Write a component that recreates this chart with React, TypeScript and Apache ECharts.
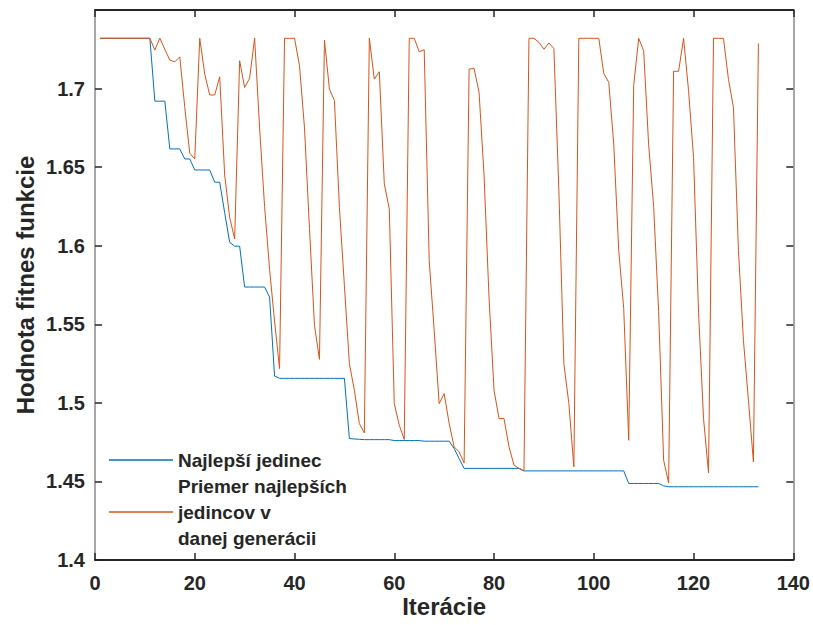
import React, { useEffect, useRef } from "react";
import * as echarts from "echarts";

const iterations: number[] = Array.from({ length: 133 }, (_, i) => i + 1);

const bestValues: number[] = [
  1.732, 1.732, 1.732, 1.732, 1.732, 1.732, 1.732, 1.732, 1.732, 1.732,
  1.732, 1.692, 1.692, 1.692, 1.6616, 1.6616, 1.6616, 1.6552, 1.6552, 1.6482,
  1.6482, 1.6482, 1.6482, 1.6404, 1.6404, 1.621, 1.6022, 1.5997, 1.5997, 1.5737,
  1.5737, 1.5737, 1.5737, 1.5737, 1.5673, 1.5171, 1.5156, 1.5156, 1.5156, 1.5156,
  1.5156, 1.5156, 1.5156, 1.5156, 1.5156, 1.5156, 1.5156, 1.5156, 1.5156, 1.5156,
  1.4773, 1.477, 1.4768, 1.4766, 1.4766, 1.4766, 1.4766, 1.4766, 1.4766, 1.476,
  1.476, 1.476, 1.476, 1.476, 1.476, 1.4756, 1.4756, 1.4756, 1.4756, 1.4756,
  1.4756, 1.471, 1.4646, 1.4583, 1.4583, 1.4583, 1.4583, 1.4583, 1.4583, 1.4583,
  1.4583, 1.4583, 1.4583, 1.4583, 1.4583, 1.4567, 1.4567, 1.4567, 1.4567, 1.4567,
  1.4567, 1.4567, 1.4567, 1.4567, 1.4567, 1.4567, 1.4567, 1.4567, 1.4567, 1.4567,
  1.4567, 1.4567, 1.4567, 1.4567, 1.4567, 1.4567, 1.4487, 1.4487, 1.4487, 1.4487,
  1.4487, 1.4487, 1.4487, 1.4472, 1.4466, 1.4466, 1.4466, 1.4466, 1.4466, 1.4466,
  1.4466, 1.4466, 1.4466, 1.4466, 1.4466, 1.4466, 1.4466, 1.4466, 1.4466, 1.4466,
  1.4466, 1.4466, 1.4466,
];

const meanValues: number[] = [
  1.732, 1.732, 1.732, 1.732, 1.732, 1.732, 1.732, 1.732, 1.732, 1.732,
  1.732, 1.7245, 1.7321, 1.725, 1.7181, 1.717, 1.7202, 1.688, 1.6588, 1.6552,
  1.732, 1.7092, 1.6959, 1.6959, 1.7075, 1.645, 1.618, 1.6043, 1.7177, 1.7007,
  1.7066, 1.732, 1.675, 1.625, 1.585, 1.552, 1.5218, 1.732, 1.732, 1.732,
  1.7145, 1.675, 1.611, 1.5493, 1.5277, 1.7308, 1.6997, 1.6924, 1.6243, 1.5747,
  1.525, 1.508, 1.4868, 1.4809, 1.732, 1.706, 1.7107, 1.6393, 1.6234, 1.4995,
  1.4858, 1.4767, 1.732, 1.732, 1.7234, 1.7247, 1.5906, 1.5461, 1.4995, 1.5059,
  1.487, 1.472, 1.4688, 1.4618, 1.7124, 1.7128, 1.6975, 1.645, 1.5665, 1.508,
  1.49, 1.49, 1.472, 1.4604, 1.4583, 1.4567, 1.732, 1.732, 1.7294, 1.725,
  1.729, 1.7255, 1.635, 1.525, 1.4997, 1.4593, 1.732, 1.732, 1.732, 1.732,
  1.732, 1.7096, 1.704, 1.6647, 1.597, 1.56, 1.4762, 1.702, 1.732, 1.724,
  1.664, 1.625, 1.558, 1.4635, 1.449, 1.711, 1.711, 1.732, 1.6986, 1.6561,
  1.5576, 1.49, 1.4555, 1.732, 1.732, 1.732, 1.7058, 1.688, 1.597, 1.5398,
  1.5017, 1.4625, 1.7287,
];

const bestName = "Najlepší jedinec";
const meanName = "Priemer najlepších\njedincov v\ndanej generácii";
const xTitle = "Iterácie";
const yTitle = "Hodnota fitnes funkcie";

const FONT = "'Liberation Sans', Arial, Helvetica, sans-serif";
const TEXT = "#262626";

export default function App() {
  const ref = useRef<HTMLDivElement>(null);

  useEffect(() => {
    if (!ref.current) return;
    const chart = echarts.init(ref.current, undefined, { renderer: "svg" });
    const fmtY = (v: number) => {
      const r = Math.round(v * 100) / 100;
      return r > 1.74 ? "" : String(r);
    };
    chart.setOption({
      animation: false,
      backgroundColor: "#ffffff",
      textStyle: { fontFamily: FONT },
      grid: { left: 95, right: 18, top: 10, bottom: 65, containLabel: false },
      legend: {
        orient: "vertical",
        left: 109,
        top: 447,
        itemWidth: 64,
        itemHeight: 1.5,
        itemGap: 0,
        padding: 0,
        icon: "rect",
        data: [bestName, meanName],
        textStyle: {
          fontFamily: FONT,
          fontWeight: "bold",
          fontSize: 19,
          color: TEXT,
          lineHeight: 26,
        },
      },
      xAxis: [
        {
          type: "value",
          min: 0,
          max: 140,
          interval: 20,
          name: xTitle,
          nameLocation: "middle",
          nameGap: 34,
          nameMoveOverlap: false,
          nameTextStyle: { fontFamily: FONT, fontWeight: "bold", fontSize: 24, color: TEXT },
          axisLine: { show: true, onZero: false, lineStyle: { color: TEXT, width: 2 } },
          axisTick: { show: true, inside: true, length: 7, lineStyle: { color: TEXT, width: 1.5 } },
          axisLabel: { fontFamily: FONT, fontWeight: "bold", fontSize: 20, color: TEXT, margin: 13 },
          splitLine: { show: false },
        },
        {
          type: "value",
          position: "top",
          min: 0,
          max: 140,
          interval: 20,
          axisLine: { show: true, onZero: false, lineStyle: { color: TEXT, width: 2 } },
          axisTick: { show: true, inside: true, length: 7, lineStyle: { color: TEXT, width: 1.5 } },
          axisLabel: { show: false },
          splitLine: { show: false },
        },
      ],
      yAxis: [
        {
          type: "value",
          min: 1.4,
          max: 1.75,
          interval: 0.05,
          name: yTitle,
          nameLocation: "middle",
          nameGap: 58,
          nameRotate: 90,
          nameMoveOverlap: false,
          nameTextStyle: { fontFamily: FONT, fontWeight: "bold", fontSize: 24, color: TEXT },
          axisLine: { show: true, onZero: false, lineStyle: { color: "#8a8a8a", width: 1.5 } },
          axisTick: { show: true, inside: true, length: 7, lineStyle: { color: TEXT, width: 1.5 } },
          axisLabel: {
            fontFamily: FONT,
            fontWeight: "bold",
            fontSize: 20,
            color: TEXT,
            margin: 10,
            formatter: fmtY,
          },
          splitLine: { show: false },
        },
        {
          type: "value",
          position: "right",
          min: 1.4,
          max: 1.75,
          interval: 0.05,
          axisLine: { show: true, onZero: false, lineStyle: { color: "#8a8a8a", width: 1.5 } },
          axisTick: { show: true, inside: true, length: 7, lineStyle: { color: TEXT, width: 1.5 } },
          axisLabel: { show: false },
          splitLine: { show: false },
        },
      ],
      series: [
        {
          name: bestName,
          type: "line",
          xAxisIndex: 0,
          yAxisIndex: 0,
          symbol: "none",
          data: iterations.map((x, i) => [x, bestValues[i]]),
          lineStyle: { color: "#0072BD", width: 1 },
          itemStyle: { color: "#0072BD" },
        },
        {
          name: meanName,
          type: "line",
          xAxisIndex: 0,
          yAxisIndex: 0,
          symbol: "none",
          data: iterations.map((x, i) => [x, meanValues[i]]),
          lineStyle: { color: "#D95319", width: 1 },
          itemStyle: { color: "#D95319" },
        },
      ],
    });
    return () => chart.dispose();
  }, []);

  return (
    <div
      ref={ref}
      style={{ position: "absolute", left: 0, top: 0, width: 813, height: 625 }}
    />
  );
}
